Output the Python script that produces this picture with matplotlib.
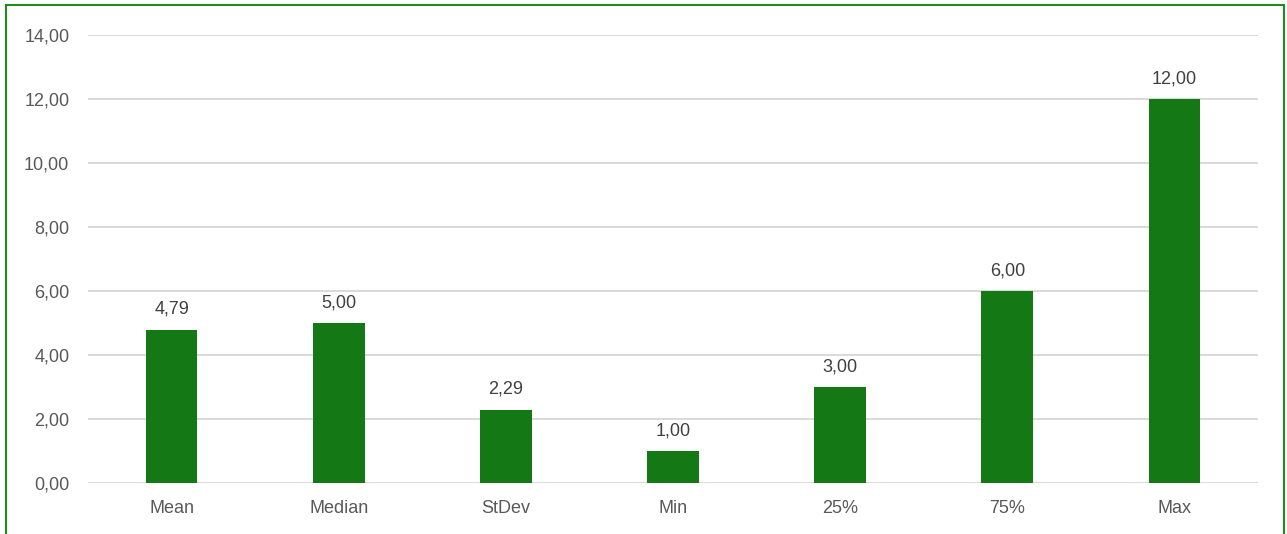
import matplotlib
matplotlib.use("Agg")
import matplotlib.pyplot as plt
from matplotlib.patches import Rectangle

plt.rcParams["font.family"] = ["Liberation Sans", "DejaVu Sans"]

categories = ["Mean", "Median", "StDev", "Min", "25%", "75%", "Max"]
values = [4.79, 5.00, 2.29, 1.00, 3.00, 6.00, 12.00]
yticks = [0, 2, 4, 6, 8, 10, 12, 14]

BAR = "#147814"
GRID = "#d9d9d9"
TXT = "#595959"
FS = 13

def fmt(v):
    return "{:.2f}".format(v).replace(".", ",")

fig = plt.figure(figsize=(12.87, 5.34), dpi=100)
ax = fig.add_axes([88 / 1287, 51 / 534, 1170 / 1287, 448 / 534])

x = list(range(len(categories)))
ax.bar(x, values, width=0.31, color=BAR, zorder=3)
for xi, v in zip(x, values):
    ax.annotate(fmt(v), (xi, v), xytext=(0, 11.5), textcoords="offset points",
                ha="center", va="baseline", fontsize=FS, color="#404040")

ax.set_xlim(-0.5, len(categories) - 0.5)
ax.set_ylim(0, 14)
ax.set_yticks(yticks)
ax.set_yticklabels([fmt(t) for t in yticks], fontsize=FS, color=TXT)
ax.set_xticks(x)
ax.set_xticklabels(categories, fontsize=FS, color=TXT)
ax.tick_params(length=0)
ax.tick_params(axis="x", pad=12.5)
ax.tick_params(axis="y", pad=13.5)
ax.yaxis.grid(True, color=GRID, linewidth=1.4, zorder=0)
for s in ax.spines.values():
    s.set_visible(False)

# green frame round the chart area (bottom edge cut off)
fig.patches.append(Rectangle((6 / 1287, -0.1), 1278 / 1287, 1.1 - 5 / 534,
                             transform=fig.transFigure, fill=False,
                             edgecolor="#1e8c1e", linewidth=1.5))

fig.savefig("out.png", dpi=100, facecolor="white")
